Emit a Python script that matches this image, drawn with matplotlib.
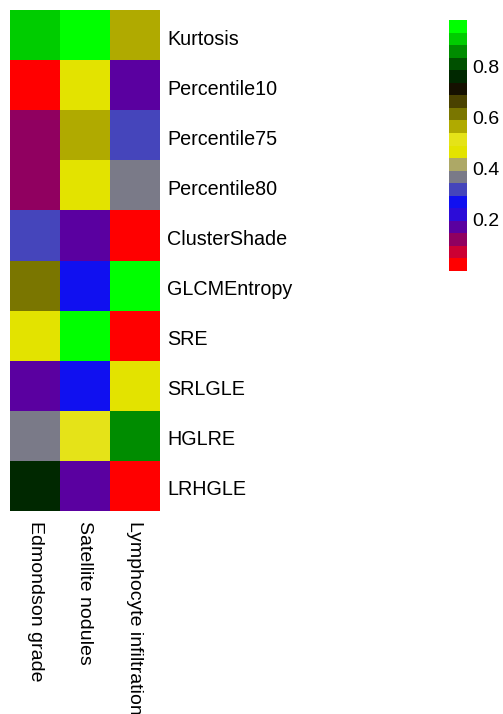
import matplotlib
matplotlib.use("Agg")
import matplotlib.pyplot as plt
import matplotlib.transforms as mtransforms
from matplotlib.colors import ListedColormap, Normalize
import numpy as np

plt.rcParams['font.family'] = ['Liberation Sans', 'DejaVu Sans']

# --- data ---
features = ["Kurtosis", "Percentile10", "Percentile75", "Percentile80", "ClusterShade",
            "GLCMEntropy", "SRE", "SRLGLE", "HGLRE", "LRHGLE"]
factors = ["Edmondson grade", "Satellite nodules", "Lymphocyte infiltration"]

edmondson = [0.90, 0.02, 0.12, 0.12, 0.32, 0.61, 0.47, 0.17, 0.37, 0.76]
satellite = [0.95, 0.47, 0.56, 0.47, 0.17, 0.27, 0.95, 0.27, 0.51, 0.17]
lymphocyte = [0.56, 0.17, 0.32, 0.37, 0.02, 0.95, 0.02, 0.47, 0.86, 0.02]

cbar_ticks = [0.2, 0.4, 0.6, 0.8]

# discrete palette, low -> high
palette = ["#FF0000", "#CC0033", "#900060", "#5A00A0", "#2C0CD8",
           "#1010F0", "#4545BB", "#7A7A88", "#ADA866", "#E3E300",
           "#E5E318", "#B0AA00", "#7A7600", "#4A4200", "#151000",
           "#002800", "#005000", "#008C00", "#00CC00", "#00FF00"]
cmap = ListedColormap(palette)
norm = Normalize(vmin=0.0, vmax=0.98)

values = np.column_stack([edmondson, satellite, lymphocyte])

W, H = 503, 714
fig = plt.figure(figsize=(W / 100, H / 100), dpi=100)

ax = fig.add_axes([10 / W, 1 - 511 / H, 150 / W, 501 / H])
ax.pcolormesh(values, cmap=cmap, norm=norm)
ax.set_xlim(0, 3)
ax.set_ylim(len(features), 0)
for s in ax.spines.values():
    s.set_visible(False)

ax.yaxis.tick_right()
ax.set_yticks(np.arange(len(features)) + 0.5)
ax.set_yticklabels(features, fontsize=14.2)
ax.set_xticks(np.arange(len(factors)) + 0.5)
ax.set_xticklabels(factors, fontsize=14, rotation=-90)
ax.tick_params(axis='y', length=0, pad=5)
ax.tick_params(axis='x', length=0, pad=7)

# nudge row labels down a touch
shift = mtransforms.ScaledTranslation(0, -2 / 100, fig.dpi_scale_trans)
for lab in ax.get_yticklabels():
    lab.set_transform(lab.get_transform() + shift)

# --- colorbar ---
cax = fig.add_axes([449 / W, 1 - 271 / H, 18 / W, 251 / H])
sm = plt.cm.ScalarMappable(cmap=cmap, norm=norm)
cb = fig.colorbar(sm, cax=cax, ticks=cbar_ticks)
cb.outline.set_visible(False)
cb.ax.tick_params(length=0, labelsize=14, pad=4)
cb.ax.set_yticklabels([f"{t:.1f}" for t in cbar_ticks])

fig.savefig("out.png", dpi=100)
